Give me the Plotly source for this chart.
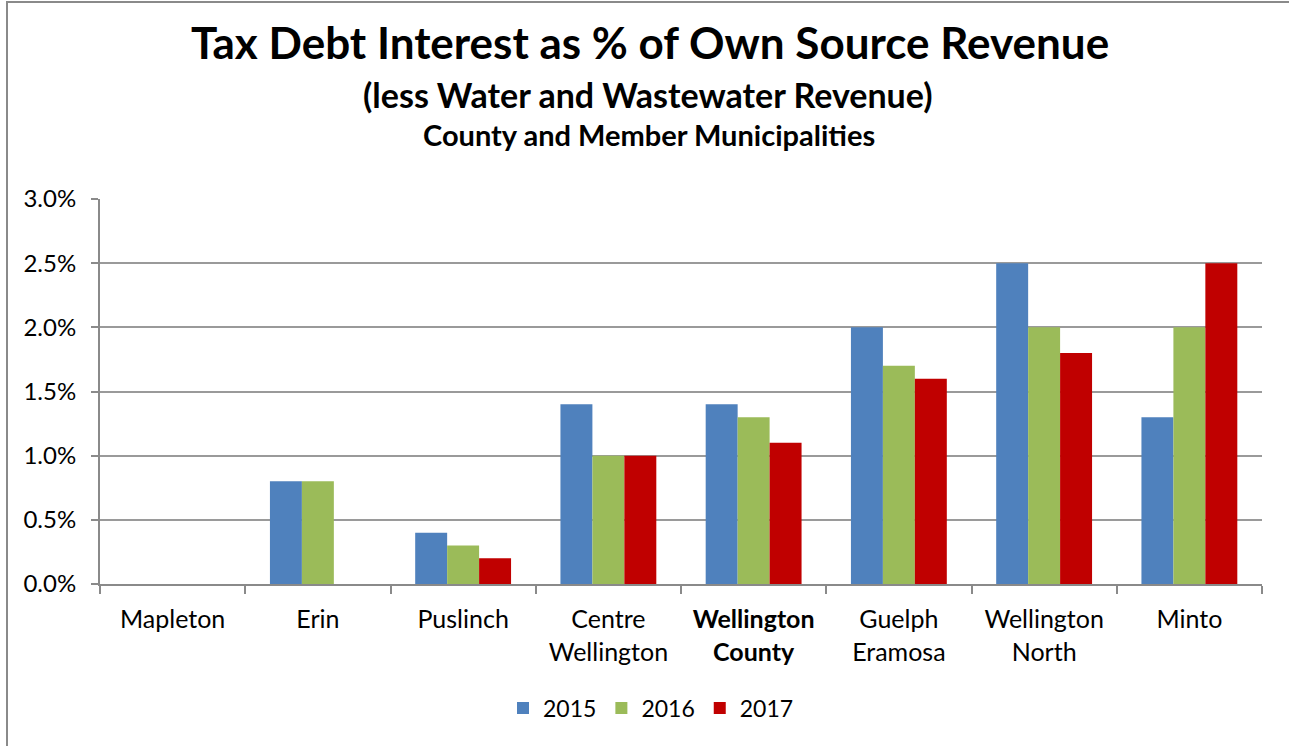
import plotly.graph_objects as go

categories = ["Mapleton", "Erin", "Puslinch", "Centre Wellington", "Wellington County",
              "Guelph Eramosa", "Wellington North", "Minto"]
tick_labels = ["Mapleton", "Erin", "Puslinch", "Centre<br>Wellington", "<b>Wellington<br>County</b>",
               "Guelph<br>Eramosa", "Wellington<br>North", "Minto"]
years = ["2015", "2016", "2017"]
v2015 = [0.0, 0.8, 0.4, 1.4, 1.4, 2.0, 2.5, 1.3]
v2016 = [0.0, 0.8, 0.3, 1.0, 1.3, 1.7, 2.0, 2.0]
v2017 = [0.0, 0.0, 0.2, 1.0, 1.1, 1.6, 1.8, 2.5]
y_ticks = [0.0, 0.5, 1.0, 1.5, 2.0, 2.5, 3.0]
y_tick_labels = ["0.0%", "0.5%", "1.0%", "1.5%", "2.0%", "2.5%", "3.0%"]

colors = ["#4F81BD", "#9BBB59", "#C00000"]
FONT = "Lato"

W, H = 1289, 746
L, R, T, B = 100, 27, 199, 162
pw, ph = W - L - R, H - T - B

fig = go.Figure()
for name, vals, col in zip(years, [v2015, v2016, v2017], colors):
    fig.add_trace(go.Bar(x=categories, y=vals, name=name,
                         marker=dict(color=col, line=dict(width=0))))

def px_x(p):
    return (p - L) / pw

def px_y(p):
    return (H - B - p) / ph

fig.update_layout(
    width=W, height=H,
    margin=dict(l=L, r=R, t=T, b=B, autoexpand=False),
    paper_bgcolor="white", plot_bgcolor="white",
    barmode="group", bargap=0.34, bargroupgap=0,
    font=dict(family=FONT, color="black", size=22),
    showlegend=True,
    legend=dict(orientation="h", x=px_x(651), xanchor="center", y=px_y(708), yanchor="middle",
                font=dict(size=23, family=FONT), traceorder="normal", itemwidth=30),
    annotations=[
        dict(text="<b>Tax Debt Interest as % of Own Source Revenue</b>", x=px_x(650), xref="paper",
             y=px_y(42), yref="paper", yanchor="middle", xanchor="center", showarrow=False,
             font=dict(size=44, family=FONT)),
        dict(text="<b>(less Water and Wastewater Revenue)</b>", x=px_x(648), xref="paper",
             y=px_y(95), yref="paper", yanchor="middle", xanchor="center", showarrow=False,
             font=dict(size=34, family=FONT)),
        dict(text="<b>County and Member Municipalities</b>", x=px_x(649), xref="paper",
             y=px_y(134), yref="paper", yanchor="middle", xanchor="center", showarrow=False,
             font=dict(size=29, family=FONT)),
    ],
    shapes=[
        dict(type="rect", xref="paper", yref="paper",
             x0=px_x(7), x1=px_x(W + 20), y0=px_y(H + 20), y1=px_y(2),
             line=dict(color="#8a8a8a", width=2), fillcolor="rgba(0,0,0,0)", layer="below"),
    ],
)

fig.update_xaxes(
    type="category", tickvals=categories, ticktext=tick_labels,
    tickson="boundaries", ticks="outside", ticklen=8, tickcolor="#8a8a8a", tickwidth=2,
    showline=True, linecolor="#8a8a8a", linewidth=2, showgrid=False,
    tickfont=dict(size=25, family=FONT), ticklabelstandoff=12,
)
fig.update_yaxes(
    range=[0, 3.0], tickvals=y_ticks, ticktext=y_tick_labels,
    ticks="outside", ticklen=7, tickcolor="#8a8a8a", tickwidth=2,
    showline=True, linecolor="#8a8a8a", linewidth=2,
    showgrid=True, gridcolor="#9a9a9a", gridwidth=2, zeroline=False,
    tickfont=dict(size=24, family=FONT), ticklabelstandoff=10,
)

fig.write_html("out.html", config={"displayModeBar": False},
               post_script="document.body.style.margin='0';document.body.style.padding='0';")
